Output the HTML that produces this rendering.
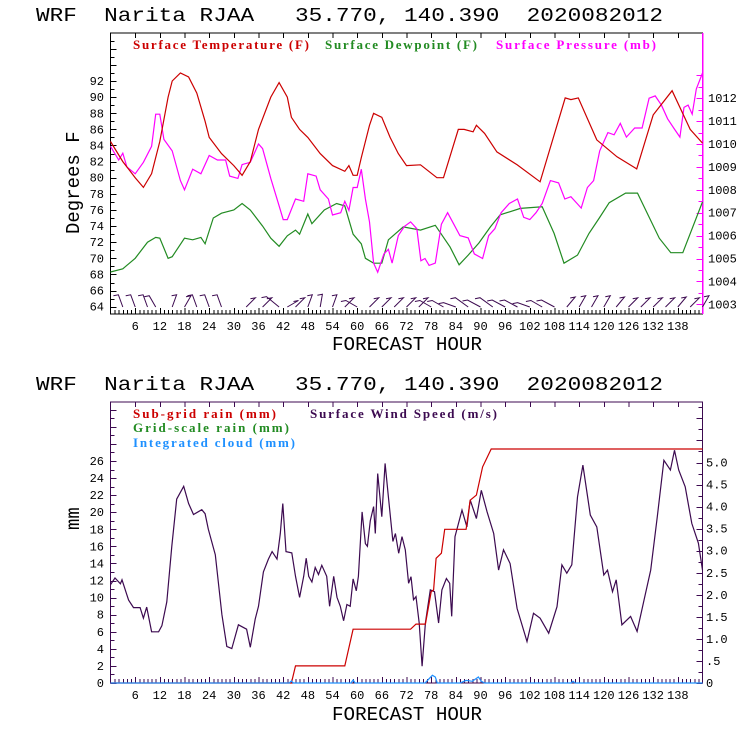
<!DOCTYPE html>
<html><head><meta charset="utf-8"><style>
html,body{margin:0;padding:0;background:#fff;}
svg{display:block;}
text{font-family:"Liberation Mono",monospace;}
.ttl{white-space:pre;}
.lg{font-family:"Liberation Serif",serif;font-weight:bold;font-size:13px;}
</style></head><body>
<svg id="chart" width="740" height="740" viewBox="0 0 740 740" xmlns="http://www.w3.org/2000/svg">
<rect width="740" height="740" fill="#fff"/>
<text class="ttl" xml:space="preserve" x="36" y="21" font-size="19" textLength="627" lengthAdjust="spacingAndGlyphs">WRF  Narita RJAA   35.770, 140.390  2020082012</text>
<text class="ttl" xml:space="preserve" x="36" y="390" font-size="19" textLength="627" lengthAdjust="spacingAndGlyphs">WRF  Narita RJAA   35.770, 140.390  2020082012</text>
<text class="lg" x="133" y="49" fill="#cc0000" textLength="176">Surface Temperature (F)</text>
<text class="lg" x="325" y="49" fill="#228b22" textLength="152">Surface Dewpoint (F)</text>
<text class="lg" x="496" y="49" fill="#ff00ff" textLength="160">Surface Pressure (mb)</text>
<text class="lg" x="133" y="418" fill="#cc0000" textLength="143">Sub-grid rain (mm)</text>
<text class="lg" x="133" y="432" fill="#228b22" textLength="156">Grid-scale rain (mm)</text>
<text class="lg" x="133" y="447" fill="#1e90ff" textLength="162">Integrated cloud (mm)</text>
<text class="lg" x="310" y="418" fill="#3c0a50" textLength="187">Surface Wind Speed (m/s)</text>
<text font-size="19" transform="translate(79,234) rotate(-90)">Degrees F</text>
<text font-size="19" transform="translate(79,530) rotate(-90)">mm</text>
<text x="332" y="350" font-size="19" textLength="150" lengthAdjust="spacingAndGlyphs">FORECAST HOUR</text>
<text x="332" y="720" font-size="19" textLength="150" lengthAdjust="spacingAndGlyphs">FORECAST HOUR</text>
<g id="g"></g>
</svg>
<script>
const tempHours=[0,3,6,8,10,12,14,15,17,19,21,23,24,27,30,32,34,36,39,41,43,44,46,48,51,54,57,58,59,60,61,63,64,66,68,70,72,75.4,79.4,81,84.6,86,88.2,89,91,94,98.9,104.5,110.6,112,113.8,118.3,123.2,128,132,136.6,141,144];
const tempVals=[84.5,82,80,78.8,80.5,84.5,90,92,93,92.5,90.5,87,85,83,81.5,80.3,82,86,90,91.8,90,87.5,86,85,83,81.5,80.8,81.5,80.3,80.3,82.5,86.5,88,87.5,85,83,81.5,81.6,80,80,86,86,85.7,86.5,85.5,83.2,81.6,79.5,89.9,89.7,89.9,84.7,82.6,81.1,87.8,90.8,86,84.3];
const dewHours=[0,3,6,9,11,12,14,15,18,20,22,23,25,27,30,32,34,37,39,41,43,45,46,48,49,52,55,57,59,61,62,64,66,67.6,71.2,75.4,79,82.6,84.8,87,89.6,92.4,94.8,99.7,105,107.9,110.3,113.6,116.4,118.9,121.3,125.3,128.2,133.5,136.3,139.2,144];
const dewVals=[68.3,68.7,70,72,72.6,72.5,70,70.2,72.5,72.3,72.6,71.8,75,75.6,76,76.8,76,74,72.5,71.5,72.8,73.5,73,75.5,74.3,76,76.8,76.5,73,71.8,70,69.4,69.4,72.3,73.9,73.5,74.1,71.4,69.2,70.4,71.9,73.9,75.4,76.2,76.4,73.1,69.4,70.4,73.1,75,76.9,78.1,78.1,72.5,70.7,70.7,77];
const presHours=[0,2,3,4,6,8,10,11,12,13,15,17,18,20,22,24,26,28,29,31,32,34,36,37,39,41,42,43,45,47,48,50,51,53,54,56,57,58,59,60,61,62,63,64,65,66.5,67.6,68.5,70,71.5,73,74.5,75.5,76.5,77.5,79,80.5,82,83.5,85,87,88.5,90.5,92,93.5,95,97,99,100.5,102,103.5,105,107,109,110.5,112,113.5,114.5,116,117.5,119,121,122.5,124,125.5,127.5,129.3,131,132.5,134,135.5,137,138.5,139.5,140.5,141.5,142.5,144];
const presVals=[1009.9,1009.3,1009.6,1009,1008.7,1009.2,1009.9,1011.3,1011.3,1010.2,1009.7,1008.4,1008,1008.9,1008.7,1009.5,1009.3,1009.3,1008.6,1008.5,1009.1,1009.2,1010,1009.8,1008.5,1007.3,1006.7,1006.7,1007.6,1007.5,1008.7,1008.6,1008,1007.6,1006.9,1007,1007.5,1007.1,1008.1,1008.1,1008.9,1007.6,1006.6,1004.8,1004.4,1005.2,1005.4,1004.8,1006,1006.4,1006.6,1006.3,1004.9,1005,1004.7,1004.8,1006.5,1007,1006.5,1006,1005.9,1005.2,1005,1006,1006.3,1007,1007.4,1007.6,1006.8,1006.7,1007,1007.4,1008.4,1008.3,1007.6,1007.7,1007.4,1007.2,1008.1,1008.4,1009.7,1010.5,1010.4,1010.9,1010.3,1010.7,1010.7,1012,1012.1,1011.7,1011.1,1010.7,1010.3,1011.6,1011.7,1011.3,1012.4,1013.1];
// wind speed (m/s)
const windHours=[0,1.1,2.4,2.8,4.4,5.6,7.2,8,8.8,10,11.7,12.5,13.7,14.9,16.1,17.8,19,20.2,22.2,23,23.8,25.5,27.1,28.3,29.5,31.1,33.1,34,35.2,36,37.2,38.4,39.3,40.5,41.3,41.9,42.7,44.1,45,46,47,47.6,48.2,49,49.8,50.6,51.4,52.6,53.3,54.3,55.1,55.9,56.7,57.5,58.3,59,59.8,60.3,61.2,62,62.5,63.2,64,64.4,65,66,66.8,67.6,68.7,69.3,70.1,70.9,71.7,72.5,73.1,73.7,74.3,75.1,75.8,76.6,77.8,78.8,79.8,80.6,81.7,82.5,83,83.8,85.5,86.7,87.5,89,90.2,91.6,93.2,94.4,95.6,97.2,98.9,101.3,102.9,104.5,106.6,108.6,109.8,111,112.2,113.6,114.9,116.7,118.3,120,120.9,122.1,123,124.4,126.5,128.1,129.8,131.4,133,134.6,136.2,137.2,138.2,139.8,141.4,143,144];
const windVals=[2.23,2.38,2.25,2.34,1.88,1.71,1.71,1.47,1.72,1.16,1.16,1.3,1.84,3.1,4.17,4.46,4.07,3.82,3.93,3.84,3.49,2.91,1.55,0.83,0.78,1.32,1.22,0.81,1.45,1.74,2.52,2.81,2.98,2.81,3.39,4.07,2.98,2.95,2.42,1.94,2.42,2.83,2.42,2.29,2.62,2.46,2.67,2.42,1.74,2.42,1.94,1.74,1.41,1.78,1.74,2.36,2.09,2.42,3.88,3.16,3.1,3.68,4.0,3.39,4.75,3.77,4.98,4.22,3.21,3.39,2.94,3.32,3.02,2.26,2.41,1.89,1.96,1.36,0.38,1.36,2.11,2.07,1.36,2.11,2.37,2.26,1.51,3.32,3.92,3.54,4.15,3.73,4.37,3.88,3.39,2.56,3.02,2.71,1.69,0.94,1.58,1.47,1.13,1.73,2.68,2.49,2.68,4.22,4.94,3.81,3.54,2.45,2.56,2.07,2.34,1.32,1.51,1.17,1.89,2.56,3.77,5.05,4.83,5.28,4.83,4.45,3.62,3.17,2.56];
const rainHours=[0,44,45,57,59,73,74.3,76.6,78,78.6,79.2,80.5,81.3,86.5,87.5,89,90.5,92.6,144];
const rainVals=[0,0,2,2,6.3,6.3,6.9,6.9,10.7,10.9,14.6,15.2,18,18,21.4,22,25.3,27.4,27.4];
const cloudHours=[0,43.5,44,44.5,58.5,59,59.5,76.5,77.5,78.3,79,79.5,85,86.5,88,89.5,90.2,91,112,112.5,113,144];
const cloudVals=[0,0,0.25,0,0,0.35,0,0,0.5,0.9,0.7,0,0,0.3,0.2,0.7,0.2,0,0,0.2,0,0];
const barbHours=[3,6,9,11,15,18,21,24,27,33,37,41,43,45,48,51,54,57,60,63,66,69,72,75,78,81,84,87,90,93,96,99,102,105,108,111,114,117,120,123,126,129,132,135,138,141,144];
const barbDirs=[200,200,200,210,160,150,200,200,200,135,135,285,120,135,160,170,160,135,300,45,135,135,135,135,300,300,290,280,270,260,270,270,290,300,270,140,150,150,150,140,135,135,135,135,140,135,150];
const tempTicks=[64,66,68,70,72,74,76,78,80,82,84,86,88,90,92];
const presTicks=[1003,1004,1005,1006,1007,1008,1009,1010,1011,1012];
const mmTicks=[0,2,4,6,8,10,12,14,16,18,20,22,24,26];
const windTicks=["0",".5","1.0","1.5","2.0","2.5","3.0","3.5","4.0","4.5","5.0"];
const hourTicks=[6,12,18,24,30,36,42,48,54,60,66,72,78,84,90,96,102,108,114,120,126,132,138];

const NS="http://www.w3.org/2000/svg";
const G=document.getElementById('g');
const X0=110.5,X1=702.5;
const xs=h=>X0+(X1-X0)*h/144;
const T={top:33,bot:314}; const B={top:402,bot:683};
const yT=v=>306.7-(v-64)*8.06;
const yP=v=>304.3-(v-1003)*22.9;
const yM=v=>683-v*8.54;
const yW=v=>683-v*44.1;
function el(tag,attrs,parent){const e=document.createElementNS(NS,tag);for(const k in attrs)e.setAttribute(k,attrs[k]);(parent||G).appendChild(e);return e;}
function line(x1,y1,x2,y2,c,w){return el('line',{x1,y1,x2,y2,stroke:c,'stroke-width':w||1,'shape-rendering':'crispEdges'});}
function txt(x,y,s,anchor,c){const t=el('text',{x,y,'font-size':12,'text-anchor':anchor||'start',fill:c||'#000'});t.textContent=s;return t;}
function series(hours,vals,yf,color,name){
  const p=el('polyline',{points:hours.map((h,i)=>xs(h).toFixed(1)+','+yf(vals[i]).toFixed(1)).join(' '),fill:'none',stroke:color,'stroke-width':1.2});
  
  
}
function xaxis(P,frame){
  for(let h=1;h<144;h++){const maj=h%6===0;line(xs(h)+0.5,P.bot,xs(h)+0.5,P.bot-(maj?6:4),frame);if(maj)line(xs(h)+0.5,P.top,xs(h)+0.5,P.top+5,frame);}
  hourTicks.forEach(h=>{const t=txt(xs(h),P.bot+16,String(h),'middle');});
}
// Top panel
const f1=el('rect',{x:X0,y:T.top,width:X1-X0,height:T.bot-T.top,fill:'none',stroke:'#000','shape-rendering':'crispEdges'});


line(X1,T.top,X1,T.bot,'#ff00ff',1.5);
xaxis(T,'#000');
for(let v=64;v<=97;v++){const y=Math.round(yT(v))+0.5;line(X0,y,X0+(v%2===0?6:4),y,'#000');}
tempTicks.forEach(v=>{const t=txt(104,yT(v)+4,String(v),'end');});
for(let v=1003;v<=1013;v+=0.5){const y=Math.round(yP(v))+0.5;line(X1,y,X1-(v%1===0?6:4),y,'#ff00ff');}
presTicks.forEach(v=>{const t=txt(708,yP(v)+4,String(v));});
// barbs
barbHours.forEach((h,i)=>{const a=barbDirs[i]*Math.PI/180;const x=xs(h),y=307;const L=13;const x2=x+L*Math.sin(a),y2=y-L*Math.abs(Math.cos(a))-(Math.abs(Math.cos(a))<0.3?7:0);
  const b=el('path',{d:`M${x.toFixed(1)},${y} L${x2.toFixed(1)},${y2.toFixed(1)} l-5,1`,fill:'none',stroke:'#3c0a50','stroke-width':1});
  
  });
series(dewHours,dewVals,yT,'#228b22','dewpoint-line');
series(presHours,presVals,yP,'#ff00ff','pressure-line');
series(tempHours,tempVals,yT,'#cc0000','temperature-line');
// Bottom panel
const f2=el('rect',{x:X0,y:B.top,width:X1-X0,height:B.bot-B.top,fill:'none',stroke:'#3c0a50','shape-rendering':'crispEdges'});


xaxis(B,'#3c0a50');
for(let v=0;v<=32;v++){const y=Math.round(yM(v))+0.5;line(X0,y,X0+(v%2===0?6:4),y,'#3c0a50');}
mmTicks.forEach(v=>{const t=txt(104,yM(v)+4,String(v),'end');});
for(let v=0;v<=6.25;v+=0.25){const y=Math.round(yW(v))+0.5;line(X1,y,X1-(v%0.5===0?6:4),y,'#3c0a50');}
windTicks.forEach((s,i)=>{const t=txt(706,yW(i*0.5)+4,s);});
series(windHours,windVals,yW,'#3c0a50','wind-speed-line');
const r=el('polyline',{points:rainHours.map((h,i)=>xs(h).toFixed(1)+','+yM(rainVals[i]).toFixed(1)).join(' '),fill:'none',stroke:'#cc0000','stroke-width':1.2});


series(cloudHours,cloudVals,yM,'#1e90ff','cloud-line');
</script>
</body></html>
